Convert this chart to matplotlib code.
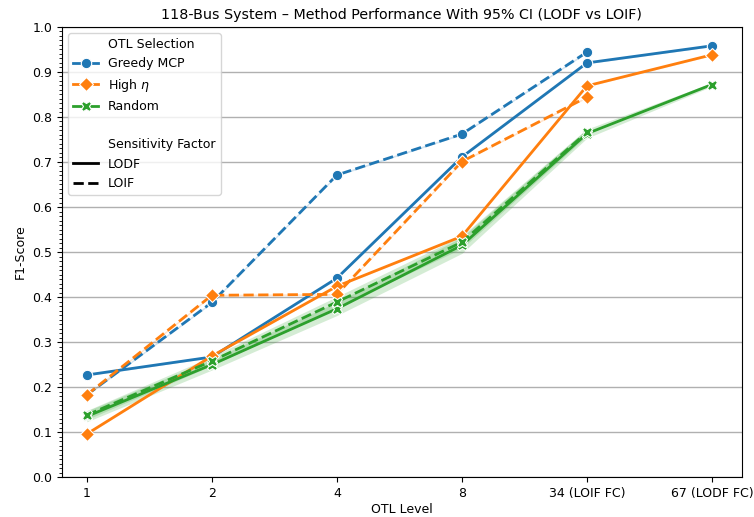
import numpy as np
import matplotlib
matplotlib.use('Agg')
import matplotlib.pyplot as plt
from matplotlib.lines import Line2D
from matplotlib.ticker import MultipleLocator

plt.rcParams['font.size'] = 9

# OTL levels (categorical on x)
levels = ['1', '2', '4', '8', '34 (LOIF FC)', '67 (LODF FC)']

# F1 scores
greedy_lodf = [0.227, 0.267, 0.442, 0.711, 0.920, 0.958]
greedy_loif = [0.183, 0.388, 0.671, 0.762, 0.944]
high_lodf = [0.096, 0.269, 0.424, 0.535, 0.869, 0.938]
high_loif = [0.183, 0.404, 0.406, 0.701, 0.844]
random_lodf = [0.135, 0.250, 0.374, 0.515, 0.763, 0.872]
random_loif = [0.138, 0.258, 0.389, 0.522, 0.766]

# half width of 95% CI
greedy_ci = [0.002, 0.002, 0.002, 0.002, 0.002, 0.002]
high_ci = [0.002, 0.002, 0.002, 0.002, 0.002, 0.002]
random_ci_lodf = [0.012, 0.012, 0.015, 0.018, 0.010, 0.004]
random_ci_loif = [0.010, 0.010, 0.012, 0.014, 0.008]

colors = {'Greedy MCP': '#1f77b4', 'High $\\eta$': '#ff7f0e', 'Random': '#2ca02c'}
markers = {'Greedy MCP': 'o', 'High $\\eta$': 'D', 'Random': 'X'}

series = [
    ('Greedy MCP', greedy_lodf, greedy_ci, '-'),
    ('Greedy MCP', greedy_loif, greedy_ci, '--'),
    ('High $\\eta$', high_lodf, high_ci, '-'),
    ('High $\\eta$', high_loif, high_ci, '--'),
    ('Random', random_lodf, random_ci_lodf, '-'),
    ('Random', random_loif, random_ci_loif, '--'),
]

fig, ax = plt.subplots(figsize=(7.54, 5.17), dpi=100)
fig.subplots_adjust(left=0.082, right=0.984, top=0.948, bottom=0.077)

for name, vals, ci, ls in series:
    x = np.arange(len(vals))
    v = np.array(vals)
    c = np.array(ci[:len(vals)])
    ax.fill_between(x, v - c, v + c, color=colors[name], alpha=0.2, linewidth=0)
    ax.plot(x, v, linestyle=ls, color=colors[name], marker=markers[name],
            markersize=7.5 if markers[name] != 'D' else 7, linewidth=2,
            markeredgecolor='white', markeredgewidth=0.8)

ax.set_xticks(range(len(levels)))
ax.set_xticklabels(levels)
ax.set_xlim(-0.2, 5.24)
ax.set_ylim(0, 1.0)
ax.yaxis.set_major_locator(MultipleLocator(0.1))
ax.yaxis.set_minor_locator(MultipleLocator(0.01))
ax.grid(axis='y', which='major', color='#b0b0b0', linewidth=1)
ax.set_axisbelow(True)
ax.set_xlabel('OTL Level', labelpad=2)
ax.set_ylabel('F1-Score')
ax.set_title('118-Bus System \u2013 Method Performance With 95% CI (LODF vs LOIF)',
             fontsize=10.3)

blank = Line2D([], [], linestyle='none', marker='')
handles = [blank]
labels = ['OTL Selection']
for name in ['Greedy MCP', 'High $\\eta$', 'Random']:
    handles.append(Line2D([], [], color=colors[name], marker=markers[name],
                          markersize=7.5, linewidth=2, markeredgecolor='white',
                          markeredgewidth=0.8))
    labels.append(name)
handles += [blank, blank,
            Line2D([], [], color='black', linewidth=2, linestyle='-'),
            Line2D([], [], color='black', linewidth=2, linestyle='--')]
labels += ['', 'Sensitivity Factor', 'LODF', 'LOIF']
ax.legend(handles, labels, loc='upper left', framealpha=0.8)

plt.savefig('out.png', dpi=100)
